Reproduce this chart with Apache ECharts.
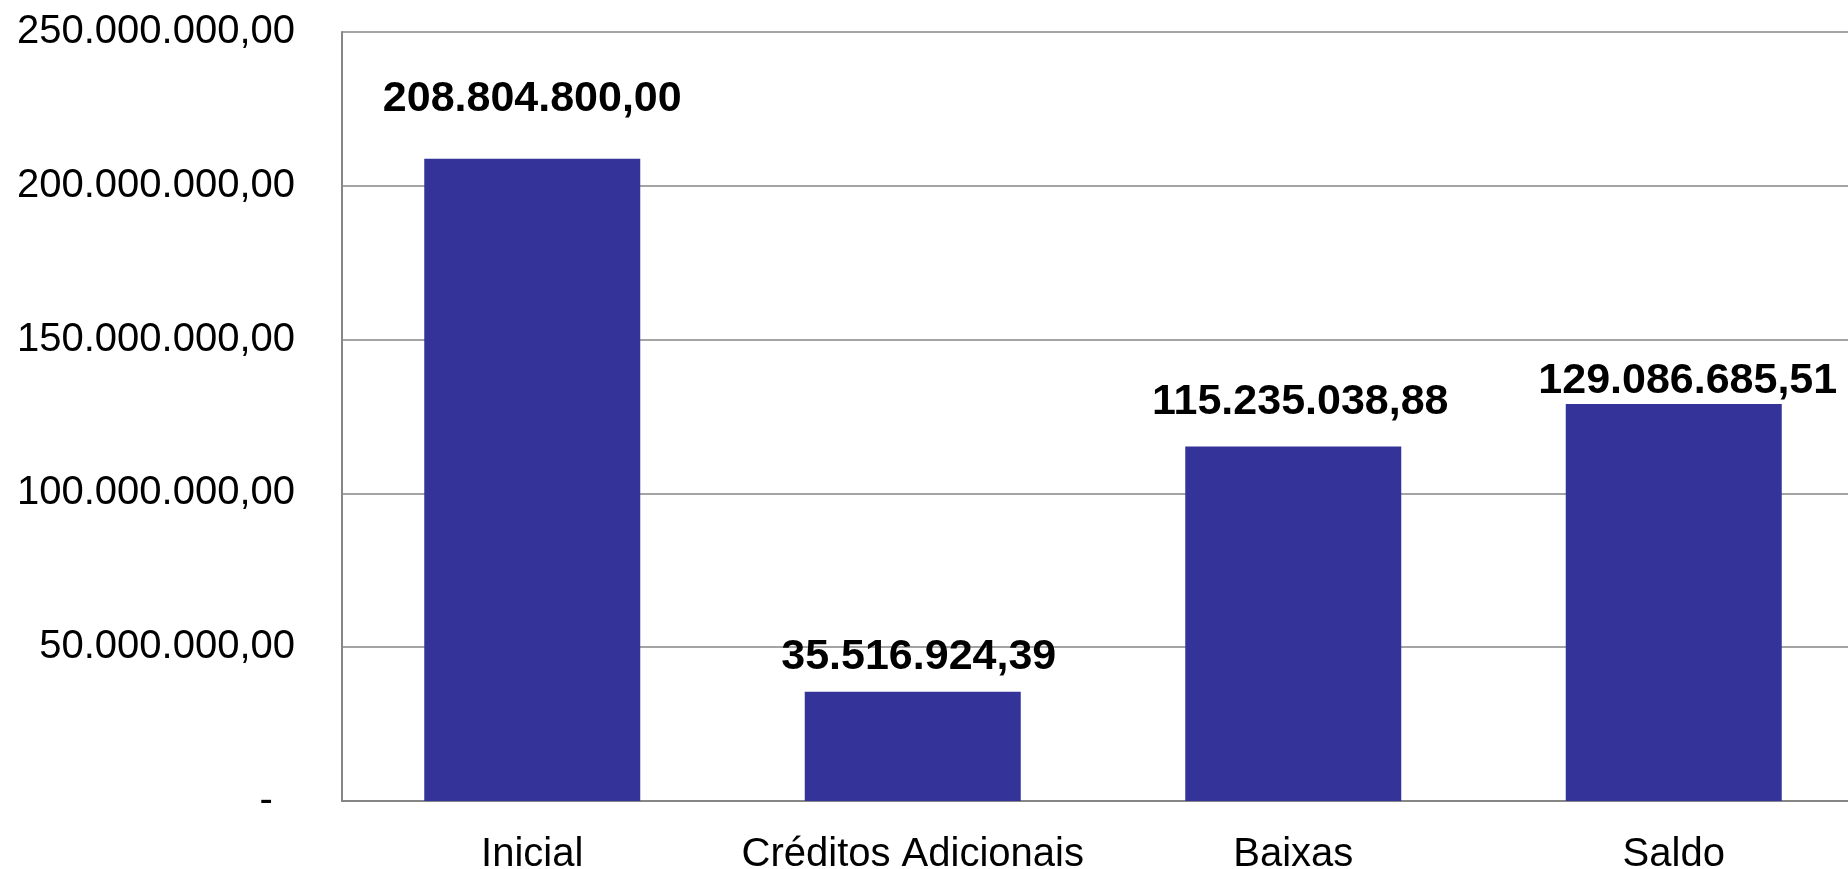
<!DOCTYPE html>
<html>
<head>
<meta charset="utf-8">
<title>Execução orçamentária</title>
<script src="https://cdn.jsdelivr.net/npm/echarts@6/dist/echarts.min.js"></script>
<style>
  html, body { margin: 0; padding: 0; background: #ffffff; overflow: hidden; }
  #chart { width: 1848px; height: 869px; }
</style>
</head>
<body>
<div id="chart"></div>
<script>
// Categories and amounts (R$)
const categories = ['Inicial', 'Créditos Adicionais', 'Baixas', 'Saldo'];
const values = [208804800.00, 35516924.39, 115235038.88, 129086685.51];

// Value axis range
const axisMin = 0;
const axisMax = 250000000;
const axisStep = 50000000;

// Hand-placed label nudges [dx, dy] for each bar's value label
const labelNudges = [[0, -38], [6, -13], [7, -23], [14, -1]];

// Brazilian number format: 1.234.567,89
function fmtBR(v) {
  const parts = Math.abs(v).toFixed(2).split('.');
  const intPart = parts[0].replace(/\B(?=(\d{3})+(?!\d))/g, '.');
  return (v < 0 ? '-' : '') + intPart + ',' + parts[1];
}

const FONT = '"Liberation Sans", Arial, Helvetica, sans-serif';
const GRAY = '#868686';

const chart = echarts.init(document.getElementById('chart'), null, { renderer: 'canvas' });

chart.setOption({
  backgroundColor: '#ffffff',
  animation: false,
  // plot area runs slightly past the right edge of the canvas
  grid: {
    left: 342, right: -16, top: 32, bottom: 68,
    containLabel: false,
    outerBoundsMode: 'none'
  },
  xAxis: {
    type: 'category',
    data: categories,
    axisLine: { show: true, lineStyle: { color: GRAY, width: 2 } },
    axisTick: { show: false },
    axisLabel: {
      color: '#000000',
      fontFamily: FONT,
      fontSize: 40,
      margin: 34,
      interval: 0
    }
  },
  yAxis: {
    type: 'value',
    min: axisMin,
    max: axisMax,
    interval: axisStep,
    axisLine: { show: true, lineStyle: { color: GRAY, width: 2 } },
    axisTick: { show: false },
    splitLine: { show: true, lineStyle: { color: GRAY, width: 1.5 } },
    axisLabel: {
      color: '#000000',
      fontFamily: FONT,
      fontSize: 40,
      margin: 47,
      formatter: function (v) { return v === 0 ? '-  ' : fmtBR(v); }
    }
  },
  series: [{
    type: 'bar',
    barWidth: 216,
    data: values.map(function (v, i) {
      return {
        value: v,
        label: { offset: labelNudges[i] }
      };
    }),
    itemStyle: { color: '#333399' },
    label: {
      show: true,
      position: 'top',
      distance: 0,
      color: '#000000',
      fontFamily: FONT,
      fontWeight: 'bold',
      fontSize: 43,
      formatter: function (p) { return fmtBR(p.value); }
    }
  }]
});
</script>
</body>
</html>
